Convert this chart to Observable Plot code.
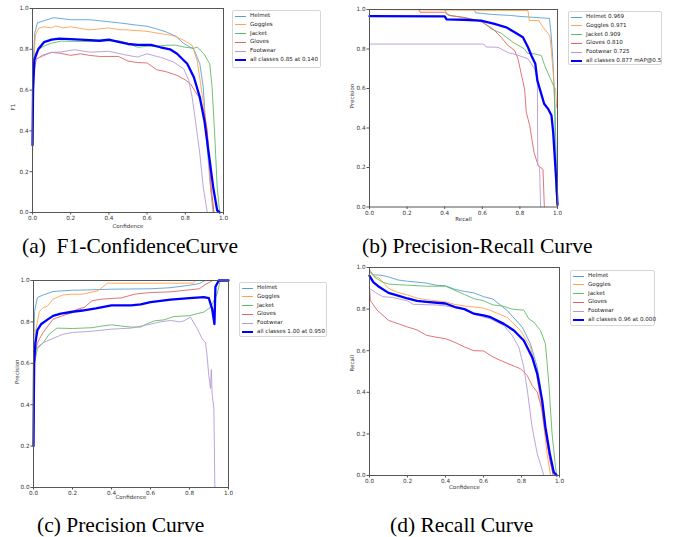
<!DOCTYPE html>
<html><head><meta charset="utf-8">
<script src="https://cdn.jsdelivr.net/npm/d3@7"></script>
<script src="https://cdn.jsdelivr.net/npm/@observablehq/plot@0.6"></script>
<style>
body{margin:0;background:#fff;}
#fig{position:relative;width:677px;height:537px;overflow:hidden;background:#fff;font-family:"DejaVu Sans",sans-serif;}
.panel{position:absolute;overflow:hidden;}
.legend{position:absolute;border:1px solid #d6d6d6;border-radius:2px;background:#fff;box-sizing:border-box;}
.lrow{position:absolute;font-size:5.6px;color:#222;white-space:nowrap;line-height:1;}
.lsw{position:absolute;height:0;}
.cap{position:absolute;font-family:"Liberation Serif","Times New Roman",serif;font-size:21.5px;color:#000;white-space:pre;line-height:1;}
</style></head><body><div id="fig"></div><script>
// ---------- data ----------
const classNames = ["Helmet","Goggles","Jacket","Gloves","Footwear"];
const apValues = ["0.969","0.971","0.909","0.810","0.725"];
const allF1Label = "all classes 0.85 at 0.140";
const allPRLabel = "all classes 0.877 mAP@0.5";
const allPLabel = "all classes 1.00 at 0.950";
const allRLabel = "all classes 0.96 at 0.000";
const tickVals = [0, 0.2, 0.4, 0.6, 0.8, 1.0];
const captions = ["(a)  F1-ConfidenceCurve", "(b) Precision-Recall Curve", "(c) Precision Curve", "(d) Recall Curve"];

// (a) F1 vs confidence
const f1Helmet = [[0,0.32],[0.004,0.75],[0.012,0.88],[0.026,0.93],[0.06,0.94],[0.11,0.955],[0.2,0.945],[0.3,0.945],[0.35,0.94],[0.45,0.93],[0.55,0.918],[0.6,0.913],[0.65,0.9],[0.7,0.885],[0.75,0.864],[0.79,0.83],[0.845,0.8],[0.876,0.729],[0.894,0.614],[0.912,0.35],[0.932,0.124],[0.946,0]];
const f1Goggles = [[0,0.25],[0.005,0.7],[0.015,0.87],[0.035,0.905],[0.06,0.91],[0.1,0.905],[0.12,0.915],[0.16,0.905],[0.2,0.91],[0.3,0.895],[0.35,0.9],[0.4,0.905],[0.45,0.897],[0.5,0.895],[0.6,0.888],[0.65,0.88],[0.73,0.868],[0.757,0.86],[0.8,0.84],[0.836,0.819],[0.862,0.745],[0.883,0.614],[0.915,0.4],[0.932,0.124],[0.95,0]];
const f1Jacket = [[0,0.3],[0.005,0.72],[0.015,0.78],[0.03,0.8],[0.07,0.82],[0.1,0.83],[0.15,0.84],[0.3,0.838],[0.45,0.842],[0.5,0.83],[0.55,0.81],[0.6,0.815],[0.65,0.815],[0.7,0.82],[0.75,0.82],[0.8,0.81],[0.845,0.805],[0.862,0.812],[0.897,0.778],[0.928,0.729],[0.94,0.614],[0.953,0.4],[0.967,0.124],[0.98,0]];
const f1Gloves = [[0,0.3],[0.005,0.68],[0.02,0.75],[0.05,0.77],[0.1,0.785],[0.15,0.78],[0.2,0.77],[0.25,0.778],[0.3,0.77],[0.35,0.765],[0.45,0.765],[0.5,0.742],[0.55,0.735],[0.6,0.733],[0.62,0.72],[0.65,0.7],[0.7,0.69],[0.757,0.672],[0.8,0.65],[0.827,0.631],[0.871,0.565],[0.897,0.5],[0.915,0.4],[0.932,0.157],[0.95,0]];
const f1Footwear = [[0,0.3],[0.005,0.72],[0.01,0.75],[0.05,0.765],[0.1,0.785],[0.15,0.787],[0.22,0.798],[0.3,0.786],[0.4,0.79],[0.45,0.78],[0.5,0.77],[0.55,0.762],[0.6,0.778],[0.65,0.765],[0.67,0.761],[0.74,0.737],[0.792,0.704],[0.818,0.647],[0.836,0.565],[0.853,0.45],[0.876,0.288],[0.894,0.124],[0.915,0]];
const f1All = [[0,0.33],[0.003,0.6],[0.01,0.75],[0.03,0.8],[0.06,0.835],[0.1,0.847],[0.14,0.852],[0.2,0.85],[0.3,0.845],[0.35,0.842],[0.4,0.847],[0.45,0.836],[0.5,0.826],[0.55,0.822],[0.62,0.822],[0.67,0.81],[0.72,0.8],[0.757,0.778],[0.81,0.729],[0.845,0.663],[0.876,0.565],[0.9,0.45],[0.923,0.288],[0.946,0.124],[0.967,0.01],[0.98,0]];

// (b) precision vs recall
const prHelmet = [[0,1],[0.555,1],[0.565,0.983],[0.6,0.98],[0.65,0.975],[0.75,0.97],[0.8,0.965],[0.86,0.961],[0.957,0.955],[0.965,0.885],[0.975,0.75],[0.986,0.514],[0.995,0.2],[1,0]];
const prGoggles = [[0,1],[0.683,0.995],[0.843,0.995],[0.85,0.944],[0.9,0.944],[0.923,0.91],[0.959,0.868],[0.968,0.784],[0.977,0.683],[0.982,0.607],[0.99,0.6],[0.995,0.504],[1,0.504],[1,0]];
const prJacket = [[0,1],[0.4,1],[0.41,0.98],[0.43,0.97],[0.5,0.96],[0.6,0.94],[0.647,0.902],[0.7,0.88],[0.763,0.834],[0.825,0.8],[0.84,0.778],[0.88,0.775],[0.914,0.767],[0.932,0.716],[0.959,0.657],[0.982,0.607],[0.985,0.5],[0.99,0.1],[1,0]];
const prGloves = [[0,1],[0.262,1],[0.27,0.986],[0.4,0.986],[0.42,0.97],[0.5,0.96],[0.55,0.95],[0.6,0.935],[0.656,0.902],[0.7,0.86],[0.736,0.818],[0.772,0.793],[0.79,0.75],[0.811,0.657],[0.825,0.598],[0.834,0.48],[0.852,0.413],[0.875,0.277],[0.897,0.21],[0.923,0.19],[0.93,0]];
const prFootwear = [[0,0.825],[0.608,0.825],[0.62,0.81],[0.683,0.809],[0.74,0.78],[0.763,0.776],[0.8,0.765],[0.843,0.75],[0.879,0.7],[0.893,0.632],[0.895,0.21],[0.905,0.2],[0.91,0]];
const prAll = [[0,0.966],[0.4,0.965],[0.41,0.95],[0.5,0.948],[0.593,0.944],[0.665,0.927],[0.727,0.91],[0.772,0.885],[0.816,0.86],[0.843,0.809],[0.861,0.767],[0.882,0.725],[0.893,0.64],[0.911,0.581],[0.929,0.523],[0.95,0.497],[0.968,0.463],[0.977,0.379],[0.986,0.244],[0.995,0.109],[1,0.01]];

// (c) precision vs confidence
const pHelmet = [[0,0.55],[0.005,0.85],[0.02,0.918],[0.05,0.93],[0.1,0.947],[0.2,0.953],[0.3,0.955],[0.4,0.958],[0.6,0.96],[0.7,0.965],[0.8,0.977],[0.85,0.985],[0.88,1],[1,1]];
const pGoggles = [[0,0.145],[0.01,0.75],[0.03,0.85],[0.05,0.87],[0.07,0.875],[0.1,0.91],[0.15,0.93],[0.2,0.934],[0.25,0.934],[0.33,0.95],[0.38,0.987],[0.82,0.987],[0.83,1],[1,1]];
const pJacket = [[0,0.193],[0.005,0.6],[0.02,0.67],[0.05,0.7],[0.08,0.74],[0.12,0.77],[0.2,0.768],[0.3,0.772],[0.35,0.78],[0.4,0.786],[0.45,0.78],[0.5,0.775],[0.55,0.775],[0.58,0.79],[0.62,0.805],[0.67,0.81],[0.72,0.826],[0.8,0.83],[0.84,0.84],[0.873,0.847],[0.908,0.871],[0.942,0.935],[0.955,0.99],[0.96,1],[1,1]];
const pGloves = [[0,0.596],[0.02,0.7],[0.05,0.75],[0.1,0.813],[0.15,0.83],[0.2,0.845],[0.22,0.86],[0.26,0.87],[0.3,0.902],[0.35,0.91],[0.45,0.916],[0.52,0.934],[0.6,0.942],[0.7,0.945],[0.8,0.955],[0.85,0.96],[0.88,0.98],[0.9,0.99],[0.92,1],[1,1]];
const pFootwear = [[0,0.6],[0.01,0.67],[0.05,0.7],[0.1,0.72],[0.15,0.74],[0.2,0.749],[0.3,0.755],[0.4,0.765],[0.5,0.77],[0.55,0.78],[0.6,0.789],[0.65,0.8],[0.703,0.807],[0.75,0.8],[0.77,0.805],[0.805,0.823],[0.84,0.767],[0.865,0.718],[0.882,0.7],[0.89,0.638],[0.899,0.541],[0.908,0.478],[0.912,0.57],[0.916,0.45],[0.925,0.382],[0.93,0]];
const pAll = [[0,0.2],[0.003,0.6],[0.01,0.7],[0.02,0.76],[0.04,0.79],[0.07,0.81],[0.1,0.829],[0.14,0.84],[0.2,0.849],[0.25,0.855],[0.32,0.865],[0.4,0.88],[0.5,0.88],[0.55,0.885],[0.6,0.895],[0.703,0.908],[0.8,0.915],[0.873,0.92],[0.899,0.915],[0.916,0.863],[0.928,0.79],[0.933,0.97],[0.95,1],[1,1]];

// (d) recall vs confidence
const rHelmet = [[0,0.98],[0.02,0.965],[0.06,0.963],[0.1,0.955],[0.15,0.94],[0.2,0.934],[0.3,0.925],[0.35,0.915],[0.4,0.912],[0.45,0.895],[0.5,0.885],[0.55,0.878],[0.6,0.86],[0.65,0.848],[0.725,0.793],[0.804,0.713],[0.847,0.633],[0.883,0.521],[0.9,0.425],[0.918,0.25],[0.944,0.12],[0.967,0]];
const rGoggles = [[0,0.98],[0.02,0.96],[0.05,0.95],[0.07,0.93],[0.1,0.9],[0.15,0.88],[0.2,0.868],[0.25,0.853],[0.3,0.845],[0.4,0.835],[0.45,0.822],[0.5,0.815],[0.55,0.81],[0.6,0.805],[0.637,0.793],[0.725,0.76],[0.795,0.697],[0.847,0.617],[0.874,0.521],[0.9,0.36],[0.918,0.232],[0.935,0.104],[0.953,0]];
const rJacket = [[0,0.99],[0.03,0.95],[0.07,0.93],[0.1,0.92],[0.2,0.915],[0.3,0.91],[0.4,0.91],[0.45,0.89],[0.5,0.87],[0.55,0.85],[0.6,0.84],[0.65,0.82],[0.7,0.815],[0.75,0.8],[0.812,0.795],[0.839,0.753],[0.865,0.737],[0.9,0.697],[0.926,0.633],[0.944,0.44],[0.961,0.2],[0.979,0.04],[0.986,0]];
const rGloves = [[0,0.9],[0.005,0.84],[0.04,0.795],[0.1,0.746],[0.15,0.73],[0.2,0.714],[0.25,0.7],[0.3,0.674],[0.35,0.665],[0.4,0.658],[0.45,0.64],[0.5,0.618],[0.55,0.6],[0.6,0.599],[0.65,0.57],[0.7,0.549],[0.75,0.53],[0.795,0.513],[0.83,0.481],[0.856,0.433],[0.883,0.401],[0.909,0.312],[0.926,0.2],[0.949,0.072],[0.967,0]];
const rFootwear = [[0,0.9],[0.03,0.88],[0.07,0.86],[0.12,0.856],[0.15,0.85],[0.2,0.84],[0.23,0.823],[0.35,0.82],[0.4,0.815],[0.5,0.8],[0.55,0.775],[0.6,0.762],[0.637,0.753],[0.707,0.721],[0.751,0.673],[0.786,0.617],[0.812,0.521],[0.833,0.393],[0.856,0.232],[0.883,0.104],[0.918,0]];
const rAll = [[0,0.96],[0.02,0.93],[0.05,0.907],[0.1,0.878],[0.15,0.865],[0.2,0.851],[0.25,0.84],[0.3,0.835],[0.4,0.827],[0.45,0.81],[0.5,0.8],[0.55,0.778],[0.6,0.77],[0.637,0.761],[0.707,0.729],[0.76,0.697],[0.812,0.649],[0.856,0.569],[0.883,0.489],[0.909,0.36],[0.926,0.232],[0.949,0.104],[0.97,0.016],[0.986,0]];

// ---------- styles ----------
const colors = ["#5b9fd4","#ffa24f","#62ba62","#e06464","#b49ad6","#0000ff"];
const fig = document.getElementById("fig");

function makePanel(o) {
  const marks = [];
  o.series.forEach((s, i) => {
    marks.push(Plot.line(s, {x: d => d[0], y: d => d[1], stroke: colors[i], strokeWidth: i === 5 ? 2.3 : 0.9}));
  });
  marks.push(Plot.frame({stroke: "#555", strokeWidth: 1}));
  marks.push(Plot.axisX({ticks: tickVals, tickFormat: d => d.toFixed(1), tickSize: 2.5, tickPadding: 1, fontSize: 5.7, label: null, stroke: "#555"}));
  marks.push(Plot.axisY({ticks: tickVals, tickFormat: d => d.toFixed(1), tickSize: 2.5, tickPadding: 1.5, fontSize: 5.7, label: null, stroke: "#555"}));
  marks.push(Plot.text([o.xlabel], {text: d => d, frameAnchor: "bottom", dy: o.xlabDy, fontSize: 5.5, fill: "#333"}));
  marks.push(Plot.text([o.ylabel], {text: d => d, frameAnchor: "left", dx: -o.ylabDx, rotate: -90, fontSize: 5.5, fill: "#333"}));
  const svg = Plot.plot({
    width: o.width, height: o.height,
    marginLeft: o.ml, marginRight: o.mr, marginTop: o.mt, marginBottom: o.mb,
    x: {domain: [0, 1]}, y: {domain: [0, 1]},
    style: {fontFamily: "DejaVu Sans", color: "#333", background: "transparent"},
    marks
  });
  const div = document.createElement("div");
  div.className = "panel";
  div.style.left = o.left + "px";
  div.style.top = o.top + "px";
  div.style.width = o.width + "px";
  div.style.height = o.height + "px";
  div.appendChild(svg);
  fig.appendChild(div);

  // legend
  const lg = document.createElement("div");
  lg.className = "legend";
  lg.style.left = o.lg[0] + "px"; lg.style.top = o.lg[1] + "px";
  lg.style.width = o.lg[2] + "px"; lg.style.height = o.lg[3] + "px";
  o.labels.forEach((t, i) => {
    const cy = 5.2 + i * 8.75;
    const sw = document.createElement("div");
    sw.className = "lsw";
    const th = i === 5 ? 2 : 1;
    sw.style.left = "2px"; sw.style.width = "11px";
    sw.style.top = (cy - th / 2) + "px";
    sw.style.borderTop = th + "px solid " + colors[i];
    lg.appendChild(sw);
    const r = document.createElement("div");
    r.className = "lrow";
    r.style.left = "17px"; r.style.top = (cy - 3) + "px";
    r.textContent = t;
    lg.appendChild(r);
  });
  fig.appendChild(lg);
}

makePanel({series: [f1Helmet, f1Goggles, f1Jacket, f1Gloves, f1Footwear, f1All],
  left: 0, top: 0, width: 231, height: 232, ml: 32, mr: 8, mt: 8, mb: 20,
  xlabel: "Confidence", ylabel: "F1", xlabDy: 15, ylabDx: 19,
  lg: [232, 10, 89, 58], labels: [...classNames, allF1Label]});

makePanel({series: [prHelmet, prGoggles, prJacket, prGloves, prFootwear, prAll],
  left: 337, top: 0, width: 228, height: 229, ml: 32, mr: 8, mt: 9, mb: 22.5,
  xlabel: "Recall", ylabel: "Precision", xlabDy: 13.5, ylabDx: 17,
  lg: [568, 11, 94, 54], labels: [...classNames.map((c, i) => c + " " + apValues[i]), allPRLabel]});

makePanel({series: [pHelmet, pGoggles, pJacket, pGloves, pFootwear, pAll],
  left: 0, top: 270, width: 236, height: 232, ml: 33, mr: 8, mt: 10, mb: 15,
  xlabel: "Confidence", ylabel: "Precision", xlabDy: 11.5, ylabDx: 16,
  lg: [239, 282, 88, 55], labels: [...classNames, allPLabel]});

makePanel({series: [rHelmet, rGoggles, rJacket, rGloves, rFootwear, rAll],
  left: 337, top: 259, width: 230, height: 238, ml: 32, mr: 8, mt: 8, mb: 22,
  xlabel: "Confidence", ylabel: "Recall", xlabDy: 13, ylabDx: 17,
  lg: [570, 270, 85, 56], labels: [...classNames, allRLabel]});

// captions
const capPos = [[22, 236], [362, 236], [37, 515], [390, 515]];
captions.forEach((t, i) => {
  const c = document.createElement("div");
  c.className = "cap";
  c.style.left = capPos[i][0] + "px";
  c.style.top = capPos[i][1] + "px";
  c.textContent = t;
  fig.appendChild(c);
});
</script></body></html>
